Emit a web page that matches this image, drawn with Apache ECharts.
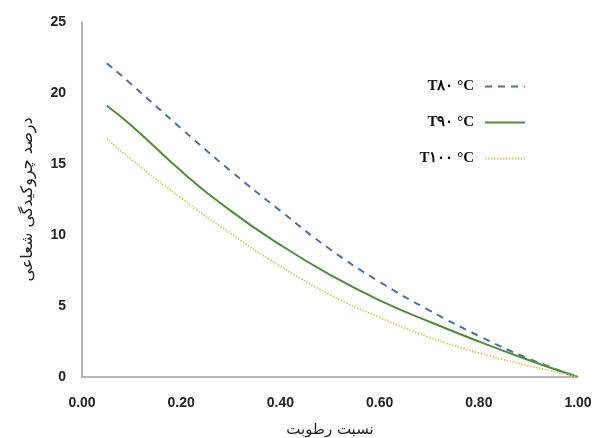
<!DOCTYPE html>
<html><head><meta charset="utf-8">
<script src="https://cdn.jsdelivr.net/npm/echarts@6/dist/echarts.min.js"></script>
<style>html,body{margin:0;padding:0;background:#fff}#c{width:596px;height:438px}</style>
</head><body><div id="c"></div>
<script>
const xValues = [0.05, 0.1, 0.2, 0.3, 0.4, 0.5, 0.6, 0.7, 0.8, 0.9, 1.0];
const t80 = [22.1, 20.6, 17.5, 14.5, 11.7, 9.0, 6.7, 4.7, 2.9, 1.3, 0];
const t90 = [19.1, 17.7, 14.5, 11.7, 9.3, 7.2, 5.4, 3.9, 2.5, 1.2, 0];
const t100 = [16.8, 15.3, 12.6, 10.1, 7.8, 5.8, 4.2, 2.8, 1.7, 0.8, 0];
const seriesNames = ['T۸۰ °C', 'T۹۰ °C', 'T۱۰۰ °C'];
const xTitle = 'نسبت رطوبت';
const yTitle = 'درصد چروکیدگی شعاعی';

const pair = arr => xValues.map((x, i) => [x, arr[i]]);
const chart = echarts.init(document.getElementById('c'));
chart.setOption({
  animation: false,
  grid: {left: 82, right: 18, top: 22, bottom: 61, containLabel: false, outerBoundsMode: 'none'},
  legend: {
    right: 65, top: 74, orient: 'vertical', align: 'right',
    itemWidth: 40, itemHeight: 12, itemGap: 21,
    itemStyle: {opacity: 0},
    textStyle: {fontFamily: 'Liberation Serif, DejaVu Serif', fontWeight: 'bold', fontSize: 15, color: '#111', padding: [0, 6, 0, 0]},
    data: seriesNames
  },
  xAxis: {
    type: 'value', min: 0, max: 1, interval: 0.2,
    name: xTitle, nameLocation: 'middle', nameGap: 46,
    nameTextStyle: {fontFamily: 'DejaVu Sans', fontSize: 15, color: '#222'},
    axisLine: {lineStyle: {color: '#a0a0a0', width: 1.5}},
    axisTick: {show: false},
    splitLine: {show: false},
    axisLabel: {formatter: v => v.toFixed(2), fontFamily: 'Liberation Sans, Arial', fontWeight: 'bold', fontSize: 14, color: '#222', margin: 19}
  },
  yAxis: {
    type: 'value', min: 0, max: 25, interval: 5,
    name: yTitle, nameLocation: 'middle', nameGap: 46,
    nameTextStyle: {fontFamily: 'DejaVu Sans', fontSize: 16, color: '#222'},
    axisLine: {show: true, lineStyle: {color: '#a0a0a0', width: 1.5}},
    axisTick: {show: false},
    splitLine: {show: false},
    axisLabel: {fontFamily: 'Liberation Sans, Arial', fontWeight: 'bold', fontSize: 14, color: '#222', margin: 16}
  },
  series: [
    {name: seriesNames[0], type: 'line', smooth: true, symbol: 'none', data: pair(t80),
     lineStyle: {color: '#4f6fa6', width: 2, type: [7, 6]}, itemStyle: {color: '#4f6fa6'}},
    {name: seriesNames[1], type: 'line', smooth: true, symbol: 'none', data: pair(t90),
     lineStyle: {color: '#4e8b3b', width: 2}, itemStyle: {color: '#4e8b3b'}},
    {name: seriesNames[2], type: 'line', smooth: true, symbol: 'none', data: pair(t100),
     lineStyle: {color: '#d2c872', width: 1.8, type: [1.5, 1.5]}, itemStyle: {color: '#d2c872'}}
  ]
});
</script></body></html>
